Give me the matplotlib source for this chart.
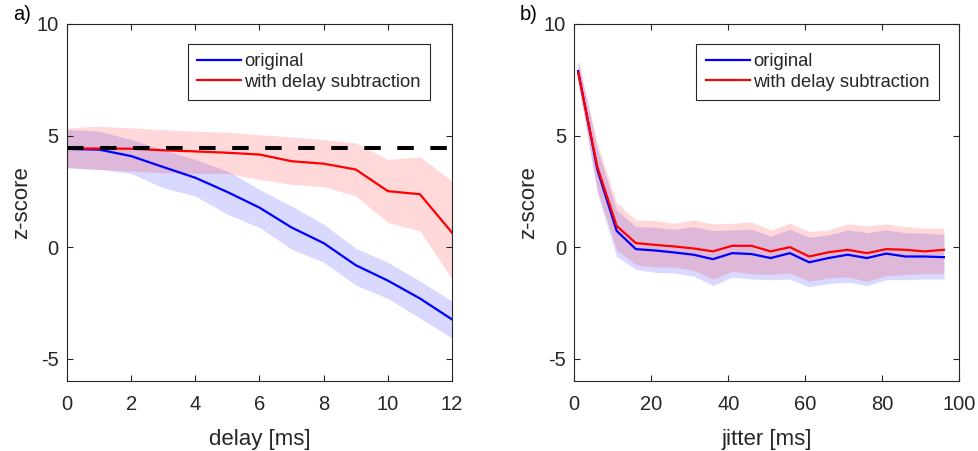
import matplotlib
matplotlib.use('Agg')
import matplotlib.pyplot as plt

plt.rcParams['font.family'] = ['Liberation Sans', 'DejaVu Sans']
plt.rcParams['axes.unicode_minus'] = False

# panel a: delay sweep
delay = [0, 1, 2, 3, 4, 5, 6, 7, 8, 9, 10, 11, 12]
orig_a = [4.40, 4.37, 4.08, 3.59, 3.11, 2.47, 1.77, 0.88, 0.18, -0.81, -1.50, -2.30, -3.24]
orig_a_hi = [5.27, 5.20, 4.82, 4.37, 3.93, 3.41, 2.59, 1.84, 1.03, -0.05, -0.68, -1.52, -2.42]
orig_a_lo = [3.56, 3.48, 3.30, 2.66, 2.29, 1.47, 0.88, -0.09, -0.68, -1.70, -2.30, -3.18, -4.08]
sub_a = [4.42, 4.42, 4.41, 4.34, 4.29, 4.23, 4.15, 3.85, 3.74, 3.48, 2.51, 2.37, 0.65]
sub_a_hi = [5.34, 5.42, 5.34, 5.27, 5.19, 5.15, 5.04, 4.94, 4.82, 4.67, 3.93, 4.05, 2.96]
sub_a_lo = [3.56, 3.48, 3.41, 3.33, 3.30, 3.30, 3.04, 2.81, 2.71, 2.29, 1.10, 0.73, -1.43]
ref_level = 4.45

# panel b: jitter sweep
jitter = [1, 6, 11, 16, 21, 26, 31, 36, 41, 46, 51, 56, 61, 66, 71, 76, 81, 86, 91, 96]
orig_b = [7.89, 3.47, 0.73, -0.09, -0.15, -0.24, -0.34, -0.54, -0.27, -0.31,
          -0.49, -0.27, -0.68, -0.49, -0.34, -0.49, -0.29, -0.42, -0.42, -0.45]
orig_b_hi = [8.34, 4.40, 1.66, 0.92, 0.89, 0.80, 0.92, 0.74, 0.77, 0.80,
             0.50, 0.80, 0.44, 0.55, 0.77, 0.65, 0.77, 0.65, 0.62, 0.58]
orig_b_lo = [7.37, 2.40, -0.42, -1.00, -1.13, -1.16, -1.30, -1.72, -1.34, -1.43,
             -1.46, -1.43, -1.78, -1.63, -1.57, -1.72, -1.46, -1.46, -1.43, -1.43]
sub_b = [7.82, 3.59, 0.95, 0.18, 0.10, 0.03, -0.06, -0.19, 0.06, 0.06,
         -0.19, 0.00, -0.42, -0.23, -0.12, -0.27, -0.09, -0.12, -0.19, -0.12]
sub_b_hi = [8.41, 4.63, 1.99, 1.22, 1.19, 1.07, 1.22, 1.04, 1.07, 1.13,
            0.77, 1.07, 0.70, 0.77, 1.04, 0.95, 1.04, 0.92, 0.85, 0.85]
sub_b_lo = [7.45, 2.55, -0.12, -0.79, -0.89, -0.89, -1.04, -1.43, -1.08, -1.19,
            -1.23, -1.16, -1.53, -1.38, -1.34, -1.53, -1.28, -1.23, -1.19, -1.19]

labels = ['original', 'with delay subtraction']
AX_COL = (0.15, 0.15, 0.15)
TICK_FS = 14.5   # tick labels
LAB_FS = 16      # axis labels
LEG_FS = 13.2    # legend

fig = plt.figure(figsize=(9.79, 4.51), dpi=100)
ax_a = fig.add_axes([0.0684, 0.1552, 0.3933, 0.7916])
ax_b = fig.add_axes([0.5866, 0.1552, 0.3933, 0.7916])


def style_axes(ax, xlim, xticks, xlabel):
    ax.set_xlim(*xlim)
    ax.set_ylim(-6, 10)
    ax.set_xticks(xticks)
    ax.set_yticks([-5, 0, 5, 10])
    ax.tick_params(direction='in', length=4, width=0.8, colors=AX_COL,
                   labelsize=TICK_FS, top=True, right=True)
    ax.tick_params(axis='x', pad=10)
    ax.tick_params(axis='y', pad=6)
    for s in ax.spines.values():
        s.set_color(AX_COL)
        s.set_linewidth(0.8)
    ax.set_xlabel(xlabel, fontsize=LAB_FS, color=AX_COL, labelpad=11)
    ax.set_ylabel('z-score', fontsize=LAB_FS, color=AX_COL, labelpad=3)


def draw_panel(ax, x, o, o_hi, o_lo, s, s_hi, s_lo):
    ax.fill_between(x, o_lo, o_hi, color='blue', alpha=0.15, lw=0)
    ax.fill_between(x, s_lo, s_hi, color='red', alpha=0.15, lw=0)
    ax.plot(x, o, color='blue', lw=1.6, label=labels[0])
    ax.plot(x, s, color='red', lw=1.6, label=labels[1])


draw_panel(ax_a, delay, orig_a, orig_a_hi, orig_a_lo, sub_a, sub_a_hi, sub_a_lo)
ax_a.plot([delay[0], delay[-1]], [ref_level, ref_level], color='black', lw=2.9,
          dashes=(4.1, 4.1))
draw_panel(ax_b, jitter, orig_b, orig_b_hi, orig_b_lo, sub_b, sub_b_hi, sub_b_lo)

style_axes(ax_a, (0, 12), [0, 2, 4, 6, 8, 10, 12], 'delay [ms]')
style_axes(ax_b, (0, 100), [0, 20, 40, 60, 80, 100], 'jitter [ms]')

for ax, anchor in ((ax_a, (0.943, 0.944)), (ax_b, (0.947, 0.944))):
    handles = ax.get_lines()[:2]
    leg = ax.legend(handles, labels, loc='upper right', bbox_to_anchor=anchor,
                    fontsize=LEG_FS, frameon=True, fancybox=False, framealpha=1,
                    edgecolor=AX_COL, borderpad=0.5, labelspacing=0.2,
                    handlelength=2.4, handletextpad=0.2, borderaxespad=0)
    leg.get_frame().set_linewidth(0.8)
    for t in leg.get_texts():
        t.set_color(AX_COL)

fig.text(13 / 979, 1 - 14 / 451, 'a)', fontsize=TICK_FS, color='black', va='center', ha='left')
fig.text(520 / 979, 1 - 14 / 451, 'b)', fontsize=TICK_FS, color='black', va='center', ha='left')

fig.savefig('out.png', dpi=100)
